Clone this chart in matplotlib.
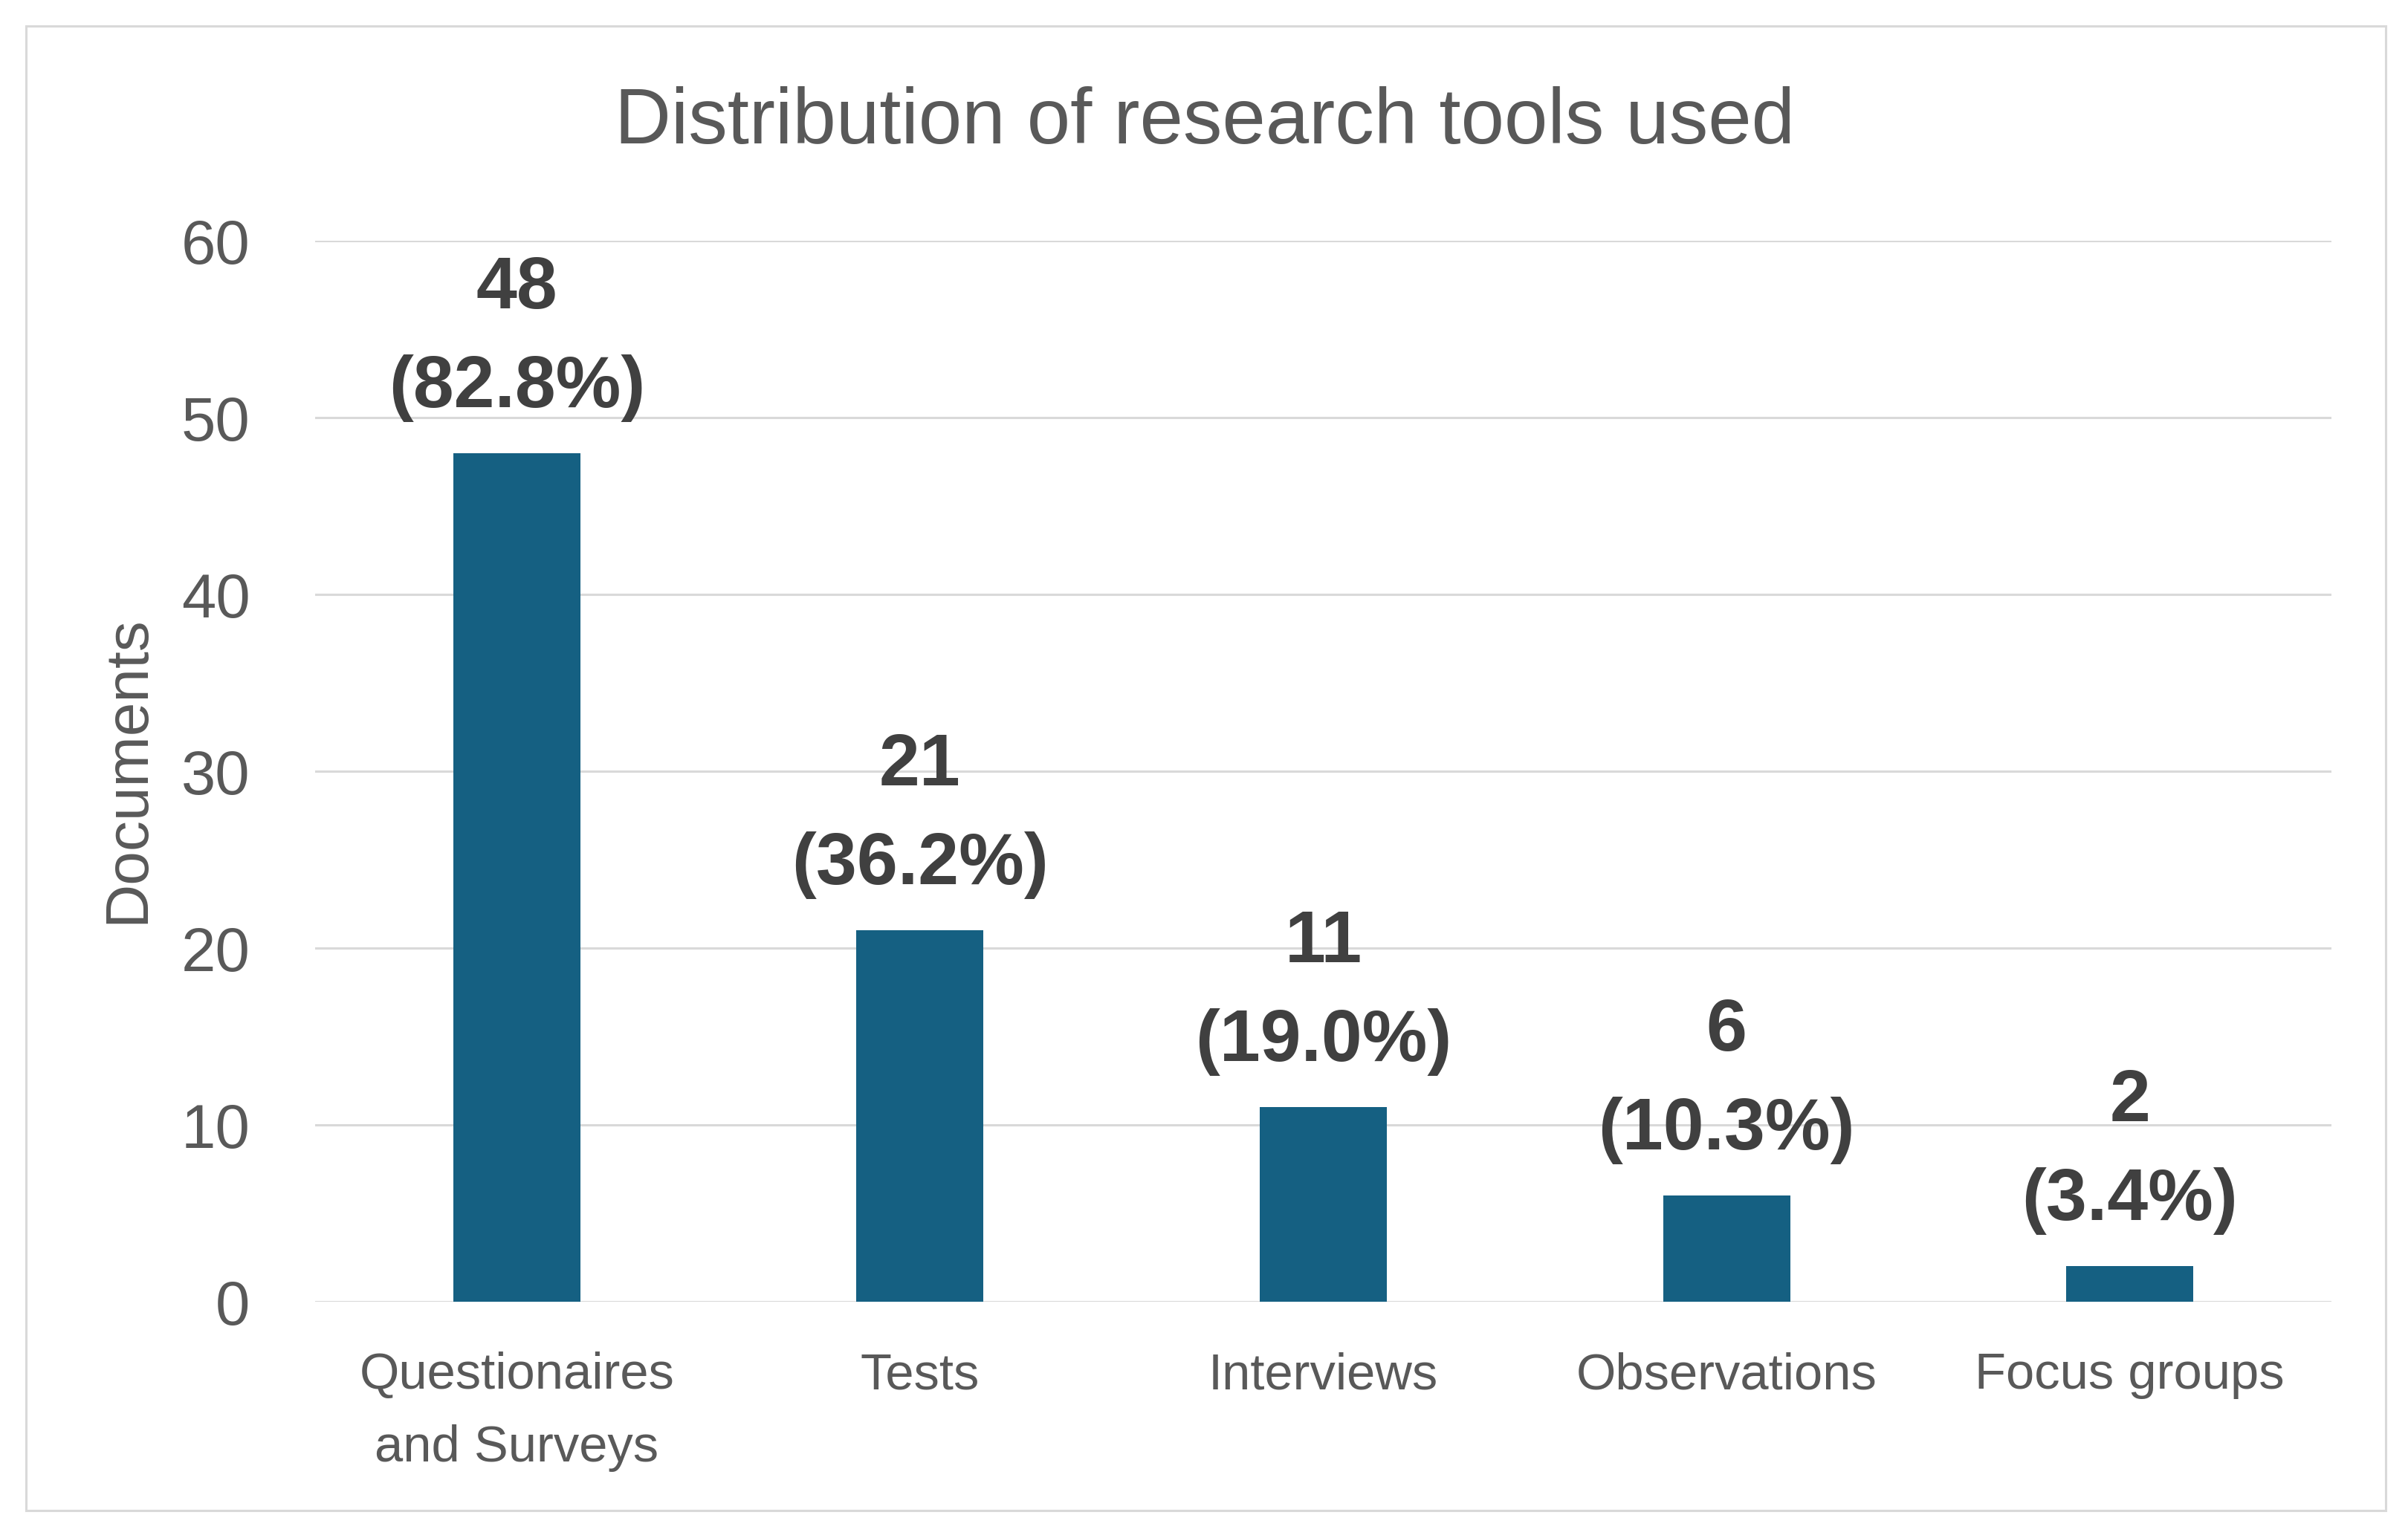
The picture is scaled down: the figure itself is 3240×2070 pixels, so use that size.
import matplotlib
matplotlib.use("Agg")
import matplotlib.pyplot as plt
from matplotlib.patches import Rectangle

# data
tools = ["Questionaires\nand Surveys", "Tests", "Interviews", "Observations", "Focus groups"]
docs = [48, 21, 11, 6, 2]
pct = [82.8, 36.2, 19.0, 10.3, 3.4]
yticks = [0, 10, 20, 30, 40, 50, 60]

bar_color = "#156082"
grid_color = "#d9d9d9"
text_color = "#595959"
label_color = "#404040"

plt.rcParams["font.family"] = ["Liberation Sans", "DejaVu Sans"]

W, H = 3240, 2070
fig = plt.figure(figsize=(W / 100, H / 100), dpi=100)
fig.patch.set_facecolor("white")

# outer chart frame
fig.patches.append(Rectangle((35 / W, 1 - 2033 / H), (3210 - 35) / W, (2033 - 35) / H,
                             transform=fig.transFigure, fill=False,
                             edgecolor=grid_color, linewidth=2.2))

ax = fig.add_axes([424 / W, 1 - 1752 / H, (3137 - 424) / W, (1752 - 324) / H])
x = list(range(len(tools)))
ax.bar(x, docs, width=0.315, color=bar_color, zorder=3)

ax.set_xlim(-0.5, len(tools) - 0.5)
ax.set_ylim(0, 60)
ax.set_yticks(yticks)
ax.yaxis.grid(True, color=grid_color, linewidth=2.2, zorder=0)
for s in ax.spines.values():
    s.set_visible(False)
ax.tick_params(axis="y", length=0, pad=63, labelsize=60, labelcolor=text_color)
ax.tick_params(axis="x", length=0, pad=48.5, labelsize=49.5, labelcolor=text_color)
ax.set_xticks(x)
ax.set_xticklabels(tools, linespacing=1.68)

for xi, v, p in zip(x, docs, pct):
    ax.annotate("({:.1f}%)".format(p), xy=(xi, v), xytext=(0, 44.6),
                textcoords="offset points", ha="center", va="baseline",
                fontsize=71, fontweight="bold", color=label_color)
    ax.annotate(str(v), xy=(xi, v), xytext=(0, 140.4),
                textcoords="offset points", ha="center", va="baseline",
                fontsize=71, fontweight="bold", color=label_color)

fig.text(0.5003, 1 - 193 / H, "Distribution of research tools used", ha="center",
         va="baseline", fontsize=75.6, color=text_color)
fig.text(172 / W, 1 - 1036 / H, "Documents", rotation=90, ha="center", va="center",
         fontsize=59, color=text_color)

fig.savefig("out.png", dpi=100, facecolor="white")
